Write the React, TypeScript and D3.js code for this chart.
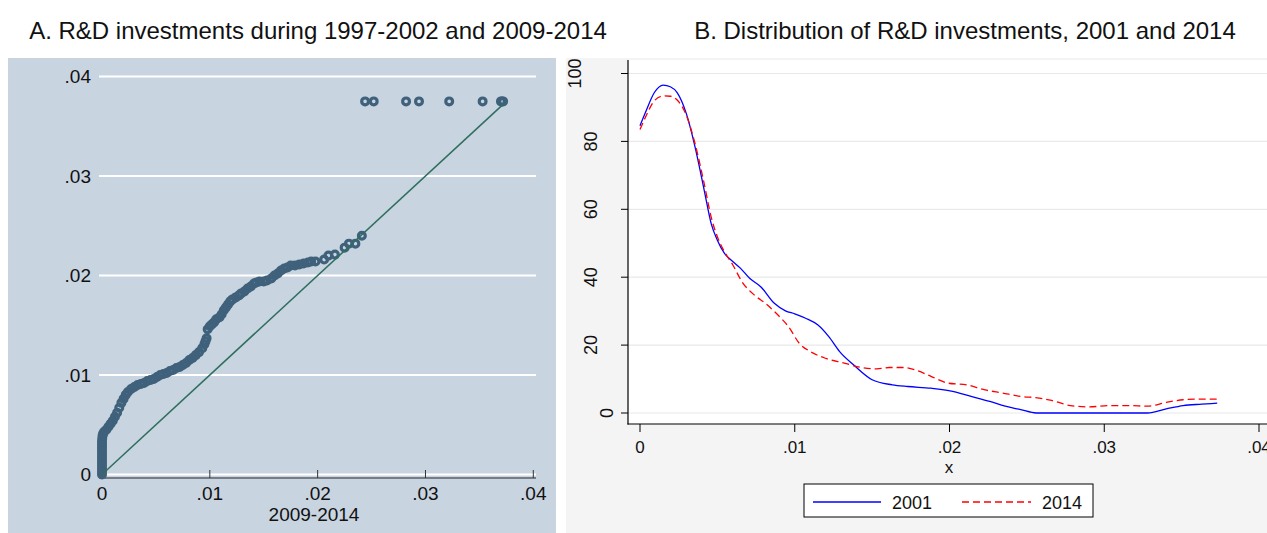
import React from 'react';
import * as d3 from 'd3';

// Panel A: quantile pairs (x = 2009-2014, y = 1997-2002)
const qqX = [
  0, 0, 0, 0, 0, 0, 0, 0, 0, 0, 0, 0, 0.00002, 0.00005, 0.0001, 0.0002, 0.0004, 0.0006, 0.0008, 0.001,
  0.0012, 0.0014, 0.0016, 0.0018, 0.002, 0.0022, 0.0024, 0.0027, 0.003, 0.0033, 0.0036, 0.0039, 0.0042,
  0.0045, 0.0048, 0.0051, 0.0054, 0.0057, 0.006, 0.0063, 0.0066, 0.0069, 0.0072, 0.0075, 0.0078, 0.0081,
  0.0084, 0.0087, 0.009, 0.0093, 0.0095, 0.0096, 0.0097,
  0.0098, 0.01, 0.0102, 0.0104, 0.0106, 0.0109, 0.0111, 0.0113, 0.0115, 0.0117, 0.0119, 0.0121, 0.0124,
  0.0127, 0.0129, 0.0132, 0.0135, 0.0138, 0.0141, 0.0143, 0.0146, 0.015, 0.0153, 0.0157, 0.016, 0.0163,
  0.0166, 0.0169, 0.0172, 0.0175, 0.0179, 0.0183, 0.0187, 0.0191, 0.0194, 0.0198, 0.0206, 0.021, 0.0216,
  0.0225, 0.0229, 0.0235, 0.0241,
  0.0244, 0.0252, 0.0282, 0.0294, 0.0322, 0.0353, 0.037, 0.0371, 0.0372,
];
const qqY = [
  0, 0.0003, 0.0006, 0.0009, 0.0012, 0.0015, 0.0018, 0.0021, 0.0024, 0.0027, 0.003, 0.0033, 0.0036, 0.0039,
  0.0041, 0.0043, 0.0045, 0.0048, 0.0051, 0.0054, 0.0058, 0.0062, 0.0067, 0.0072, 0.0076, 0.008, 0.0083,
  0.0086, 0.0088, 0.009, 0.0091, 0.0092, 0.0094, 0.0095, 0.0096, 0.0098, 0.01, 0.0101, 0.0102, 0.0104,
  0.0105, 0.0107, 0.0108, 0.011, 0.0112, 0.0115, 0.0117, 0.012, 0.0123, 0.0127, 0.0131, 0.0134, 0.0137,
  0.0146, 0.0149, 0.0151, 0.0153, 0.0156, 0.0158, 0.0161, 0.0165, 0.0168, 0.0171, 0.0174, 0.0176, 0.0178,
  0.018, 0.0182, 0.0184, 0.0187, 0.0189, 0.0192, 0.0193, 0.0194, 0.0194, 0.0195, 0.0197, 0.02, 0.0202,
  0.0205, 0.0207, 0.0208, 0.021, 0.021, 0.0211, 0.0212, 0.0213, 0.0214, 0.0214, 0.0216, 0.022, 0.0221,
  0.0228, 0.0232, 0.0232, 0.024,
  0.0375, 0.0375, 0.0375, 0.0375, 0.0375, 0.0375, 0.0375, 0.0375, 0.0375,
];
const qqTicks = [0, 0.01, 0.02, 0.03, 0.04];

// Panel B: kernel densities
const dens2001X = [
  0, 0.00035, 0.00093, 0.0015, 0.00196, 0.0024, 0.003, 0.00356, 0.00415, 0.0046, 0.005, 0.00546, 0.0059,
  0.0065, 0.0071, 0.0078, 0.00868, 0.0094, 0.01, 0.0107, 0.0115, 0.0122, 0.0129, 0.0138, 0.015, 0.0163,
  0.0173, 0.0188, 0.0202, 0.0214, 0.0226, 0.0236, 0.0246, 0.0256, 0.0284, 0.0328, 0.034, 0.0351, 0.0363,
  0.0373,
];
const dens2001Y = [
  84.6, 88.5, 94.4, 96.6, 96.1, 94.4, 88.1, 78.3, 65.6, 55.8, 50.9, 47.0, 45.0, 42.6, 39.6, 37.2, 32.3,
  30.1, 29.2, 27.9, 25.9, 22.5, 18.1, 14.2, 9.8, 8.3, 7.8, 7.3, 6.4, 4.9, 3.4, 2.0, 1.0, 0, 0, 0, 1.2, 2.2,
  2.6, 2.9,
];
const dens2014X = [
  0, 0.00035, 0.00093, 0.0015, 0.00196, 0.0024, 0.003, 0.00356, 0.00415, 0.0046, 0.005, 0.00546, 0.006,
  0.0066, 0.0074, 0.0081, 0.0088, 0.0096, 0.0103, 0.011, 0.012, 0.0132, 0.0142, 0.0153, 0.0161, 0.017,
  0.0179, 0.0188, 0.0199, 0.0211, 0.0223, 0.0234, 0.0246, 0.0258, 0.0266, 0.0278, 0.029, 0.0304, 0.0316,
  0.0328, 0.034, 0.0351, 0.0363, 0.0373,
];
const dens2014Y = [
  83.5, 87.1, 92.0, 93.4, 93.3, 92.2, 87.6, 79.3, 67.5, 57.7, 51.9, 47.5, 43.6, 38.6, 34.7, 32.3, 29.4,
  25.4, 20.5, 18.1, 16.1, 14.7, 13.5, 13.0, 13.4, 13.4, 12.5, 10.8, 8.8, 8.3, 6.8, 5.9, 4.9, 4.4, 3.7, 2.2,
  1.8, 2.2, 2.2, 2.0, 3.1, 3.9, 4.1, 4.1,
];
const densXTicks = [0, 0.01, 0.02, 0.03, 0.04];
const densYTicks = [0, 20, 40, 60, 80, 100];
const seriesNames = ['2001', '2014'];

const FONT = "'Liberation Sans', Arial, sans-serif";

const fmtTick = (v: number) => (v === 0 ? '0' : d3.format('.2f')(v).replace(/^0/, ''));

export default function App() {
  // panel A scales
  const ax = d3.scaleLinear().domain([0, 0.04]).range([102, 533.3]);
  const ay = d3.scaleLinear().domain([0, 0.04]).range([474.5, 76.5]);
  // panel B scales
  const bx = d3.scaleLinear().domain([0, 0.04]).range([640, 1259]);
  const by = d3.scaleLinear().domain([0, 100]).range([413, 73.5]);

  const line = d3
    .line<[number, number]>()
    .x((d) => bx(d[0]))
    .y((d) => by(d[1]))
    .curve(d3.curveMonotoneX);

  const path2001 = line(dens2001X.map((x, i) => [x, dens2001Y[i]]));
  const path2014 = line(dens2014X.map((x, i) => [x, dens2014Y[i]]));

  const qqMax = Math.max(d3.max(qqX) || 0, 0.0373);

  return (
    <svg
      width={1267}
      height={533}
      style={{ position: 'absolute', left: 0, top: 0, background: '#fff' }}
      fontFamily={FONT}
    >
      {/* ---------- Panel A ---------- */}
      <text x={318} y={39} fontSize={24} textAnchor="middle" fill="#111">
        A. R&amp;D investments during 1997-2002 and 2009-2014
      </text>
      <rect x={8} y={58} width={548} height={475} fill="#c8d4df" />
      {qqTicks.map((t) => (
        <line key={'ag' + t} x1={99} x2={536} y1={ay(t)} y2={ay(t)} stroke="#fff" strokeWidth={2} />
      ))}
      {qqTicks.map((t) => (
        <text key={'al' + t} x={91} y={ay(t)} dy="0.35em" fontSize={19} textAnchor="end" fill="#111">
          {fmtTick(t)}
        </text>
      ))}
      <line x1={99} x2={536} y1={478} y2={478} stroke="#5b6068" strokeWidth={1.6} />
      {qqTicks.map((t) => (
        <g key={'at' + t}>
          <line x1={ax(t)} x2={ax(t)} y1={470} y2={478} stroke="#333" strokeWidth={1} />
          <text x={ax(t)} y={500} fontSize={19} textAnchor="middle" fill="#111">
            {fmtTick(t)}
          </text>
        </g>
      ))}
      <text x={314} y={521} fontSize={19} textAnchor="middle" fill="#111">
        2009-2014
      </text>
      {qqX.map((x, i) => (
        <circle
          key={'p' + i}
          cx={ax(x)}
          cy={ay(qqY[i])}
          r={3.4}
          fill="none"
          stroke="#3f617b"
          strokeWidth={3.2}
        />
      ))}
      <line
        x1={ax(0)}
        y1={ay(0)}
        x2={ax(qqMax)}
        y2={ay(qqMax)}
        stroke="#2e6e5f"
        strokeWidth={1.5}
      />

      {/* ---------- Panel B ---------- */}
      <text x={965} y={39} fontSize={24} textAnchor="middle" fill="#111">
        B. Distribution of R&amp;D investments, 2001 and 2014
      </text>
      <rect x={566} y={58} width={701} height={475} fill="#f4f4f4" />
      <rect x={628} y={60} width={639} height={364} fill="#fff" />
      {densYTicks.map((t) => (
        <line key={'bg' + t} x1={628} x2={1267} y1={by(t)} y2={by(t)} stroke="#e9e9e9" strokeWidth={1.2} />
      ))}
      <line x1={628} x2={628} y1={60} y2={424.5} stroke="#000" strokeWidth={1.2} />
      <line x1={627.5} x2={1267} y1={424} y2={424} stroke="#000" strokeWidth={1.2} />
      {densYTicks.map((t) => {
        const label = String(t);
        const cx = 623 - 16 * label.length;
        return (
          <g key={'by' + t}>
            <line x1={621} x2={628} y1={by(t)} y2={by(t)} stroke="#000" strokeWidth={1} />
            <text
              x={cx}
              y={by(t)}
              fontSize={18}
              textAnchor="middle"
              dominantBaseline="central"
              transform={`rotate(-90 ${cx} ${by(t)})`}
              fill="#111"
            >
              {label}
            </text>
          </g>
        );
      })}
      {densXTicks.map((t) => (
        <g key={'bx' + t}>
          <line x1={bx(t)} x2={bx(t)} y1={424} y2={432} stroke="#000" strokeWidth={1} />
          <text x={bx(t)} y={453} fontSize={17} textAnchor="middle" fill="#111">
            {fmtTick(t)}
          </text>
        </g>
      ))}
      <text x={949} y={473} fontSize={17} textAnchor="middle" fill="#111">
        x
      </text>
      <path d={path2001 || ''} fill="none" stroke="#0000ff" strokeWidth={1.3} />
      <path d={path2014 || ''} fill="none" stroke="#ff0000" strokeWidth={1.3} strokeDasharray="7,4" />

      {/* legend */}
      <rect x={804} y={484} width={289} height={33} fill="#fff" stroke="#000" strokeWidth={1} />
      <line x1={813} x2={881} y1={502} y2={502} stroke="#0000ff" strokeWidth={1.3} />
      <text x={892} y={509} fontSize={18} fill="#111">
        {seriesNames[0]}
      </text>
      <line x1={962} x2={1031} y1={502} y2={502} stroke="#ff0000" strokeWidth={1.3} strokeDasharray="7,4" />
      <text x={1042} y={509} fontSize={18} fill="#111">
        {seriesNames[1]}
      </text>
    </svg>
  );
}
